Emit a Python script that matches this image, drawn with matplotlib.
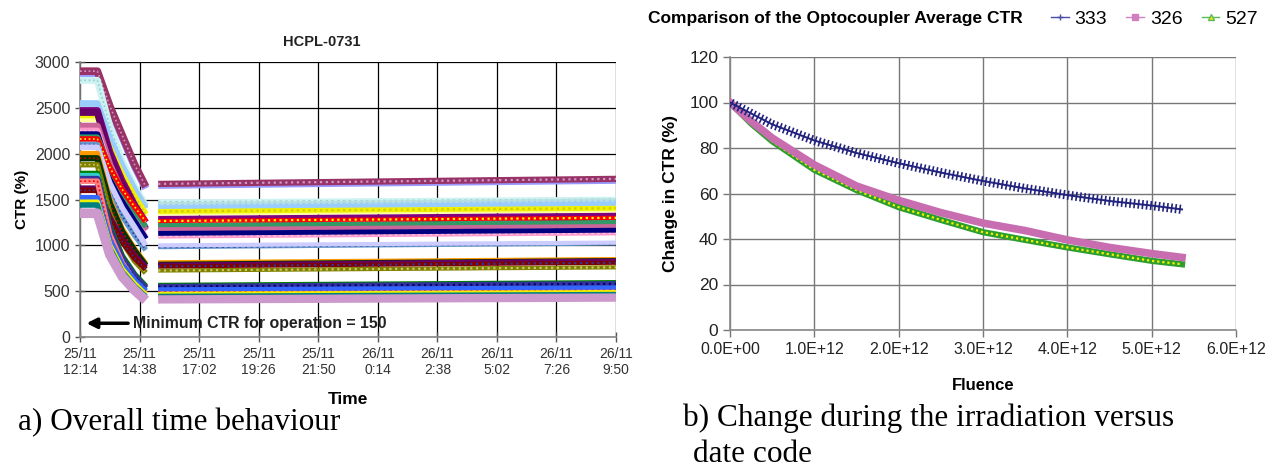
import matplotlib
matplotlib.use('Agg')
import matplotlib.pyplot as plt
from matplotlib.lines import Line2D
from matplotlib import patheffects as pe

plt.rcParams['font.family'] = ['Liberation Sans', 'DejaVu Sans']

# a) HCPL-0731, hours after 25/11 12:14
irr_hours = [0, 0.7, 1.2, 1.7, 2.2, 2.65]
rec_hours = [3.15, 21.6]

irr_ctr = [
    [2870, 2870, 2500, 2180, 1860, 1620],
    [2900, 2900, 2520, 2200, 1880, 1640],
    [2800, 2800, 2300, 1920, 1640, 1430],
    [2520, 2520, 2160, 1850, 1600, 1420],
    [2550, 2550, 2170, 1870, 1610, 1400],
    [2380, 2380, 2020, 1740, 1500, 1310],
    [2420, 2420, 2060, 1770, 1530, 1340],
    [2470, 2470, 2020, 1700, 1440, 1250],
    [2450, 2450, 1970, 1660, 1400, 1180],
    [2300, 2300, 1880, 1580, 1340, 1160],
    [2250, 2250, 1820, 1520, 1290, 1080],
    [2210, 2210, 1780, 1480, 1260, 1070],
    [2180, 2180, 1850, 1590, 1380, 1200],
    [2160, 2160, 1850, 1610, 1420, 1260],
    [2100, 2100, 1640, 1320, 1110, 950],
    [2070, 2070, 1680, 1410, 1200, 1000],
    [2000, 2000, 1500, 1180, 960, 800],
    [1950, 1950, 1460, 1150, 940, 780],
    [1880, 1880, 1350, 1040, 830, 700],
    [1620, 1620, 1300, 1060, 880, 760],
    [1600, 1600, 1270, 1040, 860, 740],
    [1780, 1780, 1200, 880, 680, 550],
    [1760, 1760, 1150, 830, 630, 510],
    [1720, 1720, 1160, 850, 660, 530],
    [1700, 1700, 1120, 810, 610, 480],
    [1520, 1520, 1060, 790, 620, 500],
    [1470, 1470, 1000, 740, 580, 460],
    [1440, 1440, 970, 710, 550, 440],
    [1350, 1350, 900, 660, 510, 400],
]
rec_ctr = [
    [1650, 1705], [1670, 1725], [1470, 1500], [1440, 1480], [1410, 1450],
    [1350, 1385], [1370, 1405], [1290, 1325], [1210, 1250], [1180, 1220],
    [1100, 1135], [1130, 1165], [1220, 1255], [1265, 1300], [980, 1020],
    [1000, 1030], [815, 850], [795, 835], [725, 760], [785, 830],
    [770, 810], [565, 595], [500, 520], [550, 580], [495, 515],
    [520, 540], [470, 490], [450, 470], [410, 430],
]
dev_colors = [
    '#9999FF', '#993366', '#CCF2F2', '#B8E0E0', '#99CCFF', '#FFFF99', '#F0F000',
    '#800080', '#660066', '#CC6699', '#FF99CC', '#000080', '#339966', '#FF0000',
    '#6699CC', '#CCCCFF', '#FF9900', '#003300', '#808000', '#660066', '#800000',
    '#008000', '#33CCCC', '#333399', '#FF8080', '#3366FF', '#F0F000', '#008080',
    '#CC99CC',
]
dev_overlay = [
    None, '#CC99CC', '#99CCCC', '#99CCFF', None, None, '#CCCC00',
    None, None, None, '#FFCCE6', None, None, '#FFFF00',
    '#333399', None, None, '#CC0000', '#CCCC66', None, '#333399',
    None, None, '#000080', '#FF0000', None, None, None,
    None,
]
dev_width = [4.5, 4.5, 4, 4, 3.5, 3.5, 3.5, 4, 4, 4, 3.5, 3.5, 3, 3, 3, 3,
             3, 3.5, 3, 3.5, 3, 3.5, 3, 4, 3, 3, 3, 3, 6]

time_ticks = [0, 2.4, 4.8, 7.2, 9.6, 12.0, 14.4, 16.8, 19.2, 21.6]
time_labels = ['25/11\n12:14', '25/11\n14:38', '25/11\n17:02', '25/11\n19:26',
               '25/11\n21:50', '26/11\n0:14', '26/11\n2:38', '26/11\n5:02',
               '26/11\n7:26', '26/11\n9:50']
min_ctr = 150

# b) average CTR change vs fluence
fluence = [0, 0.25e12, 0.5e12, 1.0e12, 1.5e12, 2.0e12, 2.5e12, 3.0e12,
           3.5e12, 4.0e12, 4.5e12, 5.0e12, 5.36e12]
avg_333 = [100, 95.2, 90.4, 83.3, 77.8, 73.3, 69.2, 65.5, 62.2, 59.3, 56.7, 54.7, 53.0]
avg_326 = [100, 91.8, 84.4, 72.6, 63.3, 57.0, 51.6, 47.0, 43.7, 39.6, 36.3, 33.6, 31.9]
avg_527 = [100, 90.8, 83.0, 70.4, 61.5, 54.0, 48.4, 43.0, 39.6, 36.3, 33.3, 30.4, 28.9]
fluence_ticks = [0, 1e12, 2e12, 3e12, 4e12, 5e12, 6e12]
fluence_labels = ['0.0E+00', '1.0E+12', '2.0E+12', '3.0E+12', '4.0E+12', '5.0E+12', '6.0E+12']

W, H = 1280, 475
fig = plt.figure(figsize=(W / 100, H / 100), dpi=100)


def box(x0, y0, x1, y1):
    return [x0 / W, 1 - y1 / H, (x1 - x0) / W, (y1 - y0) / H]


# ---------- left panel
ax = fig.add_axes(box(80, 62, 616, 337))
for i in range(len(irr_ctr)):
    ax.plot(irr_hours, irr_ctr[i], color=dev_colors[i], lw=dev_width[i] + 1,
            solid_capstyle='butt', solid_joinstyle='round', zorder=3)
    ax.plot(rec_hours, rec_ctr[i], color=dev_colors[i], lw=dev_width[i],
            solid_capstyle='butt', zorder=3)
    if dev_overlay[i]:
        ax.plot(rec_hours, rec_ctr[i], color=dev_overlay[i], lw=1.6,
                ls=(0, (1, 1.6)), zorder=3)
        ax.plot(irr_hours, irr_ctr[i], color=dev_overlay[i], lw=1.2,
                ls=(0, (1, 1.6)), zorder=3)

ax.set_xlim(0, 21.6)
ax.set_ylim(0, 3000)
ax.set_yticks(range(0, 3001, 500))
ax.set_xticks(time_ticks)
ax.set_xticklabels(time_labels, fontsize=10, color='#333333', linespacing=1.25)
ax.tick_params(axis='y', labelsize=11.5, labelcolor='#333333')
ax.tick_params(direction='inout', length=7, color='#555555', width=1)
ax.grid(True, color='black', lw=0.9, zorder=1)
ax.set_axisbelow(True)
for s in ['top', 'right']:
    ax.spines[s].set_visible(False)
for s in ['left', 'bottom']:
    ax.spines[s].set_color('#888888')
    ax.spines[s].set_linewidth(1.2)
ax.set_ylabel('CTR (%)', fontsize=11, fontweight='bold', labelpad=4)
ax.set_xlabel('Time', fontsize=12.5, fontweight='bold', labelpad=9)
ax.xaxis.set_label_coords((348 - 80) / 536, -0.2)
fig.text(322 / W, 1 - 42 / H, 'HCPL-0731', fontsize=10.5, fontweight='bold',
         color='#222222', ha='center', va='center')

ax.annotate('', xy=(0.15, min_ctr), xytext=(2.05, min_ctr),
            arrowprops=dict(arrowstyle='-|>,head_width=0.3,head_length=0.6',
                        lw=2.5, color='black'), zorder=5)
ax.text(2.15, min_ctr, 'Minimum CTR for operation = 150', fontsize=11.4,
        fontweight='bold', color='#222222', va='center', ha='left', zorder=5)

# ---------- right panel
bx = fig.add_axes(box(730, 57, 1236, 330))
bx.plot(fluence, avg_527, color='#2E9E2E', lw=4.5, zorder=3)
bx.plot(fluence, avg_527, color='#F5F500', lw=1.6, ls=(0, (1, 1.3)), zorder=3)
bx.plot(fluence, avg_326, color='#C86EB0', lw=5.5, zorder=4)
bx.plot(fluence, avg_333, color='#22227F', lw=1.4, zorder=5,
        path_effects=[pe.TickedStroke(spacing=3, angle=90, length=0.9, linewidth=1.2),
                      pe.TickedStroke(spacing=3, angle=-90, length=0.9, linewidth=1.2),
                      pe.Normal()])
bx.set_xlim(0, 6e12)
bx.set_ylim(0, 120)
bx.set_yticks(range(0, 121, 20))
bx.set_xticks(fluence_ticks)
bx.set_xticklabels(fluence_labels, fontsize=11.5, color='#222222')
bx.tick_params(axis='y', labelsize=12.5, labelcolor='#222222')
bx.tick_params(direction='out', length=5, color='#777777', width=1)
bx.grid(True, color='#777777', lw=1, zorder=1)
bx.set_axisbelow(True)
for s in ['top', 'right']:
    bx.spines[s].set_visible(False)
for s in ['left', 'bottom']:
    bx.spines[s].set_color('#888888')
    bx.spines[s].set_linewidth(1.2)
bx.set_ylabel('Change in CTR (%)', fontsize=12.5, fontweight='bold', labelpad=8)
bx.set_xlabel('Fluence', fontsize=12, fontweight='bold', labelpad=15)

fig.text(648 / W, 1 - 18 / H, 'Comparison of the Optocoupler Average CTR',
         fontsize=12.5, fontweight='bold', va='center', ha='left')
handles = [
    Line2D([], [], color='#4B4BA8', marker='+', markersize=5, lw=1),
    Line2D([], [], color='#D080C0', marker='s', markersize=4, lw=1),
    Line2D([], [], color='#5CB85C', marker='^', markersize=4, mfc='#E8E800', lw=1),
]
fig.legend(handles, ['333', '326', '527'], loc='center left',
           bbox_to_anchor=(1051 / W, 1 - 19 / H), ncol=3, frameon=False,
           fontsize=14, handlelength=0.9, columnspacing=1.0, handletextpad=0.3,
           borderpad=0, borderaxespad=0)

# captions
serif = ['Liberation Serif', 'DejaVu Serif']
fig.text(18 / W, 1 - 423 / H, 'a) Overall time behaviour', fontsize=22.5,
         family=serif, va='center', ha='left')
fig.text(683 / W, 1 - 418 / H, 'b) Change during the irradiation versus', fontsize=22.5,
         family=serif, va='center', ha='left')
fig.text(693 / W, 1 - 454 / H, 'date code', fontsize=22.5,
         family=serif, va='center', ha='left')

fig.savefig('out.png', dpi=100)
